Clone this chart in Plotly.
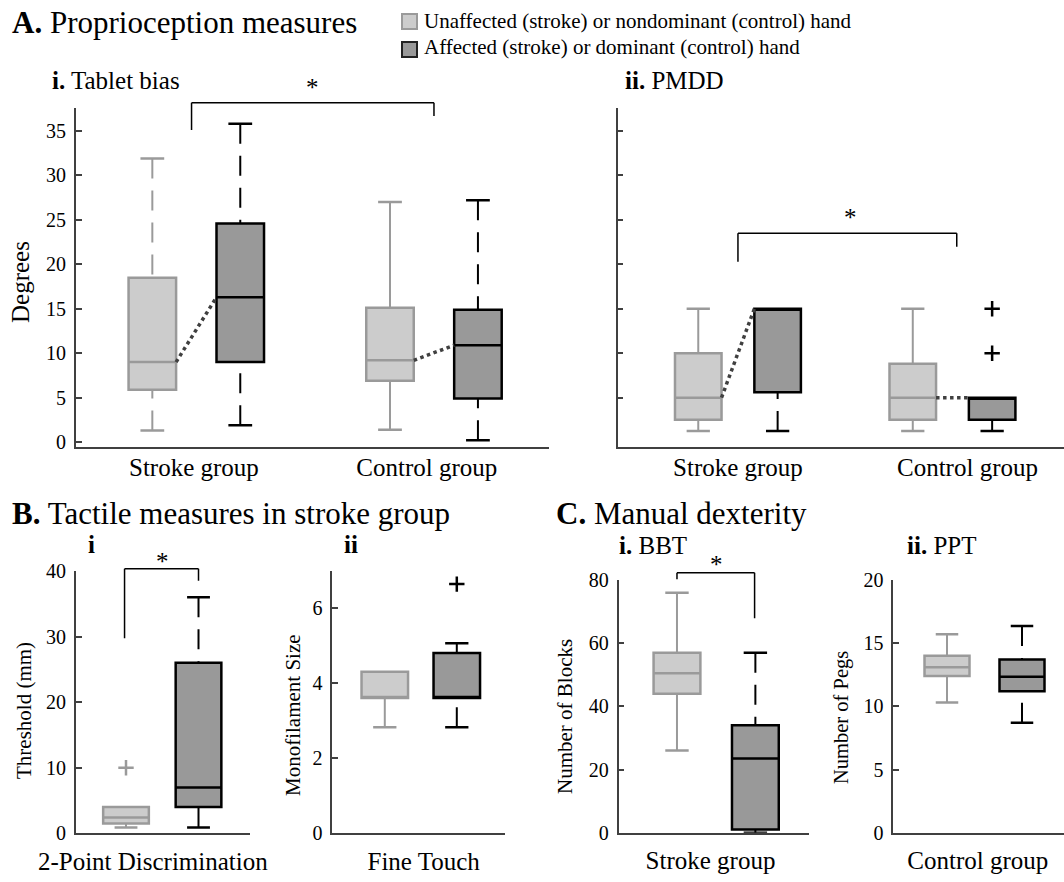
import plotly.graph_objects as go

W, H = 1064, 882
FONT = "Liberation Serif, Times New Roman, serif"
LIGHT_FILL, LIGHT_EDGE = "#cccccc", "#9a9a9a"
DARK_FILL, DARK_EDGE = "#999999", "#000000"
AXIS = "#404040"

# ---------------- data ----------------
hand_labels = ["Unaffected (stroke) or nondominant (control) hand",
               "Affected (stroke) or dominant (control) hand"]
group_labels = ["Stroke group", "Control group"]

# order: stroke-unaffected, stroke-affected, control-nondominant, control-dominant
tablet_lo = [1.3, 1.9, 1.4, 0.2]
tablet_q1 = [5.9, 9.0, 6.9, 4.9]
tablet_med = [9.0, 16.3, 9.2, 10.9]
tablet_q3 = [18.5, 24.6, 15.1, 14.9]
tablet_hi = [31.9, 35.8, 27.0, 27.2]
tablet_out = [[], [], [], []]

pmdd_lo = [1.25, 1.25, 1.25, 1.25]
pmdd_q1 = [2.5, 5.6, 2.5, 2.5]
pmdd_med = [5.0, 15.0, 5.0, 5.0]
pmdd_q3 = [10.0, 15.0, 8.8, 5.0]
pmdd_hi = [15.0, 15.0, 15.0, 5.0]
pmdd_out = [[], [], [], [15.0, 10.0]]

# order: unaffected, affected (stroke group only)
twopd_lo = [0.9, 0.9]
twopd_q1 = [1.5, 4.0]
twopd_med = [2.4, 7.0]
twopd_q3 = [4.0, 26.0]
twopd_hi = [4.0, 36.0]
twopd_out = [[10.0], []]

touch_lo = [2.83, 2.83]
touch_q1 = [3.61, 3.61]
touch_med = [3.61, 3.61]
touch_q3 = [4.31, 4.81]
touch_hi = [4.31, 5.07]
touch_out = [[], [6.65]]

bbt_lo = [26.0, 0.0]
bbt_q1 = [44.0, 1.0]
bbt_med = [50.5, 23.5]
bbt_q3 = [57.0, 34.0]
bbt_hi = [76.0, 57.0]
bbt_out = [[], []]

ppt_lo = [10.3, 8.7]
ppt_q1 = [12.4, 11.2]
ppt_med = [13.1, 12.35]
ppt_q3 = [14.0, 13.7]
ppt_hi = [15.7, 16.35]
ppt_out = [[], []]

# ---------------- panel layout (pixel geometry) ----------------
off = 0.185
panels = [
    dict(name="tablet", stats=(tablet_lo, tablet_q1, tablet_med, tablet_q3, tablet_hi, tablet_out),
         pos=[1 - off, 1 + off, 2 - off, 2 + off], light=[True, False, True, False],
         width=0.2, xpx=(75.8, 549), ypx=(108.3, 446.7), xr=[0.493, 2.484], yr=[-0.52, 37.55],
         ticks=[0, 5, 10, 15, 20, 25, 30, 35], showlabels=True,
         xtv=[0.99, 1.97], xtt=group_labels, standoff=-2,
         dash=[("dash", "dash"), ("dash", "dash"), ("solid", "solid"), ("dash", "dash")],
         connect=True, bracket=([0.98, 2.0], (102.7, 130, 116), 312, 87)),
    dict(name="pmdd", stats=(pmdd_lo, pmdd_q1, pmdd_med, pmdd_q3, pmdd_hi, pmdd_out),
         pos=[1 - off, 1 + off, 2 - off, 2 + off], light=[True, False, True, False],
         width=0.217, xpx=(617.5, 1064), ypx=(108.3, 446.7), xr=[0.4385, 2.52], yr=[-0.52, 37.55],
         ticks=[5, 10, 15, 20, 25, 30, 35], showlabels=False,
         xtv=[1.0, 2.07], xtt=group_labels, standoff=-2,
         dash=[("solid", "solid"), ("dash", "solid"), ("solid", "solid"), ("solid", "solid")],
         connect=True, bracket=([1.0, 2.02], (233.3, 261.7, 246.7), 850, 217)),
    dict(name="twopd", stats=(twopd_lo, twopd_q1, twopd_med, twopd_q3, twopd_hi, twopd_out),
         pos=[1, 2], light=[True, False],
         width=0.63, xpx=(75.8, 249.7), ypx=(571, 833.3), xr=[0.3076, 2.706], yr=[0, 40],
         ticks=[0, 10, 20, 30, 40], showlabels=True,
         xtv=[1.37], xtt=["2-Point Discrimination"], standoff=5,
         dash=[("solid", "solid"), ("solid", "dash")],
         connect=False, bracket=([0.98, 2.0], (568.7, 638.3, 580.7), 162, 561)),
    dict(name="touch", stats=(touch_lo, touch_q1, touch_med, touch_q3, touch_hi, touch_out),
         pos=[1, 2], light=[True, False],
         width=0.646, xpx=(332.3, 504.5), ypx=(571, 833.3), xr=[0.271, 2.6625], yr=[0, 7],
         ticks=[0, 2, 4, 6], showlabels=True,
         xtv=[1.54], xtt=["Fine Touch"], standoff=5,
         dash=[("solid", "solid"), ("dash", "solid")],
         connect=False, bracket=None),
    dict(name="bbt", stats=(bbt_lo, bbt_q1, bbt_med, bbt_q3, bbt_hi, bbt_out),
         pos=[1, 2], light=[True, False],
         width=0.597, xpx=(618.5, 809), ypx=(580, 832.7), xr=[0.254, 2.684], yr=[0, 80],
         ticks=[0, 20, 40, 60, 80], showlabels=True,
         xtv=[1.427], xtt=["Stroke group"], standoff=5,
         dash=[("solid", "solid"), ("solid", "dash")],
         connect=False, bracket=([1.0, 1.99], (572.7, 579.3, 618.3), 716, 564)),
    dict(name="ppt", stats=(ppt_lo, ppt_q1, ppt_med, ppt_q3, ppt_hi, ppt_out),
         pos=[1, 2], light=[True, False],
         width=0.6, xpx=(893.3, 1064), ypx=(580, 832.7), xr=[0.284, 2.56], yr=[0, 20],
         ticks=[0, 5, 10, 15, 20], showlabels=True,
         xtv=[1.41], xtt=["Control group"], standoff=5,
         dash=[("solid", "solid"), ("dash", "dash")],
         connect=False, bracket=None),
]

DASH = "20px,12px"

fig = go.Figure()
layout = dict(width=W, height=H, margin=dict(l=0, r=0, t=0, b=0, autoexpand=False),
              paper_bgcolor="white", plot_bgcolor="white", showlegend=False,
              font=dict(family=FONT, color="black"))
shapes, annotations = [], []


def px_x(px):
    return px / W


def px_y(py):
    return 1 - py / H


for i, p in enumerate(panels):
    n = "" if i == 0 else str(i + 1)
    xa, ya = "x" + n, "y" + n
    layout["xaxis" + n] = dict(
        domain=[px_x(p["xpx"][0]), px_x(p["xpx"][1])], range=p["xr"], anchor=ya,
        showline=True, linecolor=AXIS, linewidth=1.5, ticks="", showgrid=False,
        zeroline=False, tickvals=p["xtv"], ticktext=p["xtt"], fixedrange=True,
        automargin=False,
        tickfont=dict(family=FONT, size=25, color="black"), ticklabelstandoff=p["standoff"])
    layout["yaxis" + n] = dict(
        domain=[px_y(p["ypx"][1]), px_y(p["ypx"][0])], range=p["yr"], anchor=xa,
        showline=True, linecolor=AXIS, linewidth=1.5, ticks="inside", ticklen=6,
        tickcolor=AXIS, tickwidth=1.5, showgrid=False, zeroline=False,
        tickvals=p["ticks"], showticklabels=p["showlabels"], fixedrange=True,
        automargin=False,
        tickfont=dict(family=FONT, size=20, color="black"), ticklabelstandoff=4)

    lo, q1, med, q3, hi, outs = p["stats"]
    w = p["width"]
    for k, x in enumerate(p["pos"]):
        light = p["light"][k]
        fill = LIGHT_FILL if light else DARK_FILL
        edge = LIGHT_EDGE if light else DARK_EDGE
        fig.add_trace(go.Box(
            x=[x], q1=[q1[k]], median=[med[k]], q3=[q3[k]],
            lowerfence=[q1[k]], upperfence=[q3[k]], width=w, whiskerwidth=0,
            fillcolor=fill, line=dict(color=edge, width=2.5), boxpoints=False,
            xaxis=xa, yaxis=ya, hoverinfo="skip", showlegend=False))
        dlo, dhi = p["dash"][k]
        for fence, edge_val, dsh in ((lo[k], q1[k], dlo), (hi[k], q3[k], dhi)):
            if abs(fence - edge_val) < 1e-9:
                continue
            fig.add_trace(go.Scatter(
                x=[x, x], y=[fence, edge_val], mode="lines",
                line=dict(color=edge, width=2, dash=DASH if dsh == "dash" else "solid"),
                xaxis=xa, yaxis=ya, hoverinfo="skip", showlegend=False))
            fig.add_trace(go.Scatter(
                x=[x - w / 4, x + w / 4], y=[fence, fence], mode="lines",
                line=dict(color=edge, width=2.5), cliponaxis=False,
                xaxis=xa, yaxis=ya, hoverinfo="skip", showlegend=False))
        if outs[k]:
            fig.add_trace(go.Scatter(
                x=[x] * len(outs[k]), y=outs[k], mode="markers",
                marker=dict(symbol="cross-thin", size=11, line=dict(color=edge, width=2.5)),
                xaxis=xa, yaxis=ya, hoverinfo="skip", showlegend=False))
    if p["connect"]:
        for g in range(0, len(p["pos"]), 2):
            fig.add_trace(go.Scatter(
                x=[p["pos"][g] + w / 2, p["pos"][g + 1] - w / 2],
                y=[med[g], med[g + 1]], mode="lines",
                line=dict(color="#404040", width=3.5, dash="dot"),
                xaxis=xa, yaxis=ya, hoverinfo="skip", showlegend=False))
    if p["bracket"]:
        (bx0, bx1), (ytop, yl, yr_), sx, sy = p["bracket"]
        for (x0, y0, x1, y1) in ((bx0, ytop, bx1, ytop), (bx0, ytop, bx0, yl), (bx1, ytop, bx1, yr_)):
            shapes.append(dict(type="line", xref=xa, yref="paper", x0=x0, x1=x1,
                               y0=px_y(y0), y1=px_y(y1), line=dict(color="black", width=1.5)))
        annotations.append(dict(text="*", x=px_x(sx), y=px_y(sy), xref="paper", yref="paper",
                                showarrow=False, font=dict(size=25, family=FONT, color="black"),
                                xanchor="center", yanchor="middle"))

# titles and subtitles (text, left px, center px, size)
titles = [
    ("<b>A.</b> Proprioception measures", 10, 23, 31),
    ("<b>B.</b> Tactile measures in stroke group", 10, 513, 31),
    ("<b>C.</b> Manual dexterity", 554, 513, 31),
    ("<b>i.</b> Tablet bias", 50, 81, 25),
    ("<b>ii.</b> PMDD", 623, 81, 25),
    ("<b>i</b>", 86, 544, 25),
    ("<b>ii</b>", 342, 544, 25),
    ("<b>i.</b> BBT", 617, 545, 25),
    ("<b>ii.</b> PPT", 905, 545, 25),
]
for t, x, y, s in titles:
    annotations.append(dict(text=t, x=px_x(x), y=px_y(y), xref="paper", yref="paper",
                            showarrow=False, xanchor="left", yanchor="middle",
                            font=dict(size=s, family=FONT, color="black")))

# y-axis titles (text, center x px, center y px, size)
ytitles = [
    ("Degrees", 20, 282, 25),
    ("Threshold (mm)", 24, 711, 21),
    ("Monofilament Size", 293, 715, 21),
    ("Number of Blocks", 565, 717, 21),
    ("Number of Pegs", 841, 718, 20.5),
]
for t, x, y, s in ytitles:
    annotations.append(dict(text=t, x=px_x(x), y=px_y(y), xref="paper", yref="paper",
                            showarrow=False, textangle=-90, xanchor="center", yanchor="middle",
                            font=dict(size=s, family=FONT, color="black")))

# legend (drawn manually)
legend_rows = [(LIGHT_FILL, LIGHT_EDGE, 21.5, 20.5), (DARK_FILL, "#222222", 49.5, 46.5)]
for (fill, edge, sq_c, txt_c), label in zip(legend_rows, hand_labels):
    shapes.append(dict(type="rect", xref="paper", yref="paper",
                       x0=px_x(402), x1=px_x(417), y0=px_y(sq_c + 7.5), y1=px_y(sq_c - 7.5),
                       fillcolor=fill, line=dict(color=edge, width=2)))
    annotations.append(dict(text=label, x=px_x(422), y=px_y(txt_c), xref="paper", yref="paper",
                            showarrow=False, xanchor="left", yanchor="middle",
                            font=dict(size=21, family=FONT, color="black")))

layout["shapes"] = shapes
layout["annotations"] = annotations
fig.update_layout(**layout)
fig.write_html("out.html", config={"displayModeBar": False},
               post_script="document.body.style.margin='0';document.body.style.overflow='hidden';")
